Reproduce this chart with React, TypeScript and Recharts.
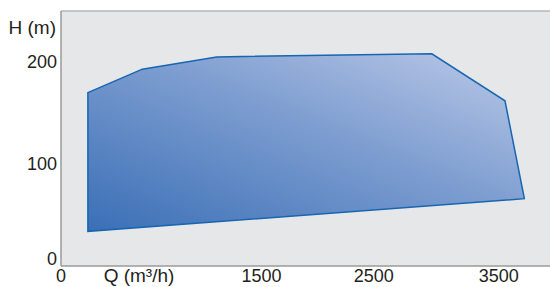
import React from "react";
import {
  ScatterChart,
  Scatter,
  XAxis,
  YAxis,
  CartesianGrid,
  ReferenceLine,
  Polygon,
} from "recharts";

// envelope corners, going round clockwise from the left edge
const flowQ = [215, 650, 1245, 2965, 3550, 3705, 215];
const headH = [170, 193, 205, 208, 162, 66, 34];

const qTicks = [0, 1500, 2500, 3500];
const hTicks = [0, 100, 200];

const envelope = flowQ.map((q, i) => ({ q, h: headH[i] }));

const FONT = "'Liberation Sans', Arial, sans-serif";
const INK = "#231f20";

const XTick = (props: any) => {
  const { x, y, payload } = props;
  // the 1500 label sits a bit to the right in the original
  const shift = payload.value === 1500 ? 13 : 0;
  return (
    <text x={x + shift} y={y} dy="0.71em" textAnchor="middle" fontSize={18} fill={INK} fontFamily={FONT}>
      {payload.value}
    </text>
  );
};

const YTick = (props: any) => {
  const { x, y, payload } = props;
  const shift = payload.value === 0 ? -7 : 0;
  return (
    <text x={x} y={y + shift} dy="0.355em" textAnchor="end" fontSize={18} fill={INK} fontFamily={FONT}>
      {payload.value}
    </text>
  );
};

const EnvelopeShape = (p: any) => (
  <Polygon points={p.points} fill="url(#envFill)" stroke="#1766b1" strokeWidth={1.5} />
);

export default function App() {
  return (
    <div style={{ position: "absolute", left: 0, top: 0, width: 550, height: 287, background: "#fff" }}>
      <ScatterChart width={550} height={287} margin={{ top: 11, right: 0, bottom: 0, left: 0 }}>
        <defs>
          <linearGradient id="envFill" x1="0" y1="1" x2="1" y2="0">
            <stop offset="0%" stopColor="#3a6fb6" />
            <stop offset="55%" stopColor="#7d9dd0" />
            <stop offset="100%" stopColor="#bccae8" />
          </linearGradient>
        </defs>
        <CartesianGrid horizontal={false} vertical={false} fill="#e6e7e9" />
        <XAxis
          type="number"
          dataKey="q"
          domain={[0, 3910]}
          ticks={qTicks}
          height={21}
          tickSize={0}
          tickMargin={3}
          tick={<XTick />}
          axisLine={{ stroke: "#9a9a9a", strokeWidth: 1.5 }}
          label={{
            content: () => (
              <text x={139} y={282} textAnchor="middle" fontSize={19} fill={INK} fontFamily={FONT}>
                Q (m³/h)
              </text>
            ),
          }}
        />
        <YAxis
          type="number"
          dataKey="h"
          domain={[0, 250]}
          ticks={hTicks}
          width={61}
          tickSize={0}
          tickMargin={4}
          tick={<YTick />}
          axisLine={{ stroke: "#9a9a9a", strokeWidth: 1.5 }}
          label={{
            content: () => (
              <text x={56} y={34} textAnchor="end" fontSize={19} fill={INK} fontFamily={FONT}>
                H (m)
              </text>
            ),
          }}
        />
        <ReferenceLine y={250} stroke="#b6b6b6" strokeWidth={1.5} />
        <Scatter
          data={envelope}
          isAnimationActive={false}
          line={EnvelopeShape}
          lineType="joint"
          shape={() => <g />}
        />
      </ScatterChart>
    </div>
  );
}
